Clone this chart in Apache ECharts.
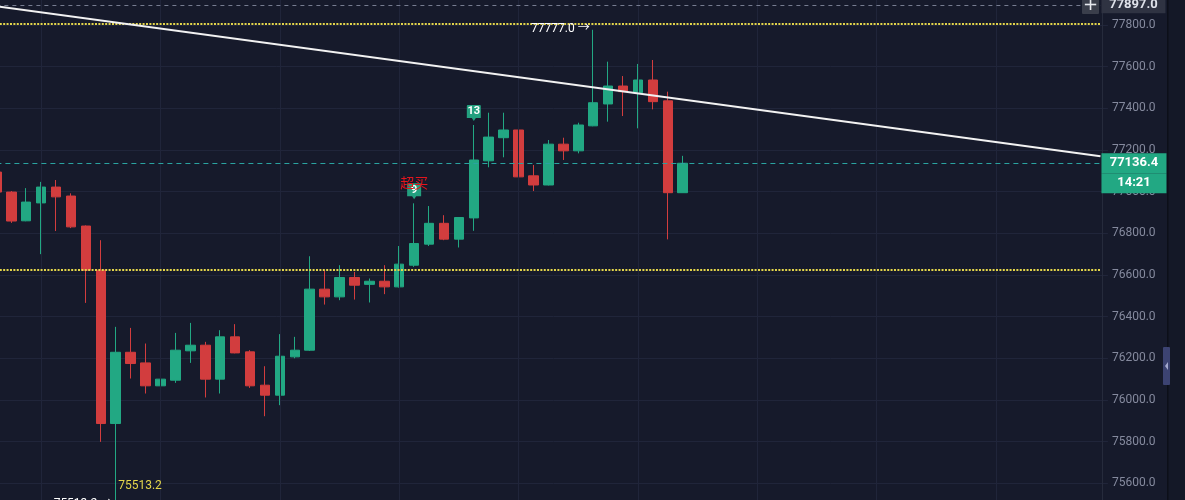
<!DOCTYPE html>
<html><head><meta charset="utf-8">
<script src="https://cdn.jsdelivr.net/npm/echarts@6/dist/echarts.min.js"></script>
<style>html,body{margin:0;padding:0;background:#161a2b;overflow:hidden}#chart{width:1185px;height:500px;}</style>
</head><body><div id="chart"></div>
<script>
// ---------- data ----------
const categories = Array.from({length: 75}, (_, i) => 'K' + i);
const opens  = [77094,76998,76860,76946,77022,76979,76835,76623,75887,76229,76178,76068,76095,76236,76263,76100,76303,76231,76071,76023,76207,76239,76532,76495,76588,76555,76570,76543,76647,76748,76848,76772,76874,77148,77259,77296,77076,77032,77228,77196,77316,77421,77507,77475,77536,77436,76995];
const closes = [76998,76859,76950,77022,76975,76831,76623,75887,76229,76175,76068,76100,76239,76263,76100,76303,76226,76068,76023,76210,76239,76532,76495,76588,76551,76570,76543,76652,76751,76848,76772,76876,77152,77262,77296,77071,77032,77228,77196,77320,77427,77507,77480,77536,77432,76995,77136.4];
const lows   = [76985,76850,76858,76700,76811,76825,76466,75799,75513.2,76103,76031,75879,76082,76178,76012,76031,76224,76058,75922,75975,76200,76235,76458,76479,76482,76468,76508,76540,76639,76739,76767,76732,76812,77117,77165,76999,77003,77030,77152,77184,77314,77336,77363,77304,77395,76771,76995];
const highs  = [77105,77003,77017,77047,77056,76992,76838,76767,76351,76346,76271,76175,76322,76370,76279,76335,76364,76239,76162,76316,76303,76690,76623,76647,76615,76583,76647,76739,76944,76931,76887,76878,77320,77379,77379,77304,77128,77248,77259,77331,77777.0,77624,77555,77613,77632,77480,77172];
const lastPrice = 77136.4;
const countdown = '14:21';
const viewTopPrice = 77897.0;
const levelLines = [77808, 76627];
const trendLine = [[0, 77890], [74, 77170]];
const signalMarks = [[32, '13'], [28, '9']];
const overbought = [28, '超买'];
const highMark = [40, 77777.0];
const lowMark = [8, 75513.2];
const gridLineIdx = [3, 11, 19, 27, 35, 43, 51, 59, 67];

// ---------- styles ----------
const UP = '#22a883', DOWN = '#d23d3e', BG = '#161a2b';
const candles = opens.map((o, i) => [o, closes[i], lows[i], highs[i]]);
const lastCat = categories[categories.length - 1];

const hLine = (v, style, label) => [
  {coord: [categories[0], v], lineStyle: style, label: label || {show: false}},
  {coord: [lastCat, v]}
];

const markLineData = [];
gridLineIdx.forEach(i => markLineData.push({xAxis: categories[i], lineStyle: {color: '#20253a', width: 1, type: 'solid'}, label: {show: false}}));
markLineData.push(hLine(viewTopPrice, {color: '#767c90', width: 1, type: [4, 4]}, {
  show: true, position: 'end', distance: 1,
  formatter: '{t|' + viewTopPrice.toFixed(1) + '}',
  rich: {t: {backgroundColor: '#2f3342', color: '#dfe2ea', fontSize: 13, fontWeight: 'bold', width: 64, height: 17, lineHeight: 17, align: 'center'}}
}));
levelLines.forEach(v => markLineData.push(hLine(v, {color: '#e4d64b', width: 2, type: [2, 1.4]})));
markLineData.push(hLine(lastPrice, {color: '#2aa3a0', width: 1, type: [5, 4]}, {
  show: true, position: 'end', distance: 1, offset: [0, 10],
  formatter: '{a|' + lastPrice.toFixed(1) + '}\n{b|' + countdown + '}',
  rich: {
    a: {backgroundColor: UP, color: '#ffffff', fontSize: 13, fontWeight: 'bold', width: 65, height: 20, lineHeight: 20, align: 'center'},
    b: {backgroundColor: UP, color: '#ffffff', fontSize: 13, fontWeight: 'bold', width: 65, height: 20, lineHeight: 20, align: 'center'}
  }
}));
markLineData.push([
  {coord: [categories[trendLine[0][0]], trendLine[0][1]], lineStyle: {color: '#f2f2f2', width: 2, type: 'solid'}, label: {show: false}},
  {coord: [categories[trendLine[1][0]], trendLine[1][1]]}
]);

const flagPath = 'path://M1,0 H13 Q14,0 14,1 V13 H9 L7,16 L5,13 H0 V1 Q0,0 1,0 Z';
const markPointData = [];
signalMarks.forEach(([i, t]) => markPointData.push({
  coord: [categories[i], highs[i]], symbol: flagPath, symbolSize: [14, 16], symbolOffset: [0, -12],
  itemStyle: {color: '#23a07f'},
  label: {show: true, position: 'inside', offset: [0, -1.5], formatter: t, color: '#ffffff', fontSize: 11, fontWeight: 'bold'}
}));
markPointData.push({
  coord: [categories[overbought[0]], highs[overbought[0]]], symbol: 'circle', symbolSize: 1,
  itemStyle: {color: 'rgba(0,0,0,0)'},
  label: {show: true, position: 'inside', offset: [0, -21], formatter: overbought[1], color: '#e3151d', fontSize: 14, fontFamily: '"Noto Sans CJK SC", sans-serif'}
});
markPointData.push({
  coord: [categories[highMark[0]], highMark[1]], symbol: 'circle', symbolSize: 1,
  itemStyle: {color: 'rgba(0,0,0,0)'},
  label: {show: true, position: 'left', distance: 3, offset: [0, -1], formatter: highMark[1].toFixed(1) + ' →', color: '#ffffff', fontSize: 12}
});
markPointData.push({
  coord: [categories[lowMark[0]], lowMark[1]], symbol: 'circle', symbolSize: 1,
  itemStyle: {color: 'rgba(0,0,0,0)'},
  label: {show: true, position: 'right', distance: 2, offset: [0, -15], formatter: lowMark[1].toFixed(1), color: '#e4d64b', fontSize: 12}
});
markPointData.push({
  coord: [categories[lowMark[0]], lowMark[1]], symbol: 'circle', symbolSize: 1,
  itemStyle: {color: 'rgba(0,0,0,0)'},
  label: {show: true, position: 'left', distance: 3, offset: [0, 3], formatter: lowMark[1].toFixed(1) + ' →', color: '#ffffff', fontSize: 12}
});

const chart = echarts.init(document.getElementById('chart'), null, {renderer: 'canvas'});
chart.setOption({
  backgroundColor: BG,
  animation: false,
  textStyle: {fontFamily: 'Roboto, "Noto Sans CJK SC", sans-serif'},
  grid: {left: -11.08, right: 77.08, top: -16.66, bottom: -24.97, containLabel: false, outerBoundsMode: 'none'},
  xAxis: {type: 'category', data: categories, boundaryGap: true, show: false},
  yAxis: {
    type: 'value', position: 'right', offset: -6, min: 75400, max: 78000, interval: 200,
    axisLine: {show: true, lineStyle: {color: '#262b3c'}},
    axisTick: {show: false},
    axisLabel: {margin: 10, color: '#858a9e', fontSize: 12, formatter: v => v.toFixed(1)},
    splitLine: {lineStyle: {color: '#20253a'}}
  },
  series: [{
    type: 'candlestick',
    data: candles,
    barWidth: 10,
    itemStyle: {color: UP, color0: DOWN, borderColor: UP, borderColor0: DOWN, borderWidth: 1},
    markLine: {silent: true, symbol: ['none', 'none'], animation: false, label: {show: false}, data: markLineData},
    markPoint: {silent: true, animation: false, data: markPointData}
  }],
  graphic: [
    {type: 'rect', shape: {x: 1168, y: 0, width: 17, height: 500}, style: {fill: '#141827'}, z: 100},
    {type: 'rect', shape: {x: 1167, y: 0, width: 1.5, height: 500}, style: {fill: '#0c0f19'}, z: 101},
    {type: 'rect', shape: {x: 1163, y: 347, width: 7, height: 38, r: 1}, style: {fill: '#3c4372'}, z: 102},
    {type: 'polygon', shape: {points: [[1165, 366], [1168, 362], [1168, 370]]}, style: {fill: '#a4a9cf'}, z: 103},
    {type: 'rect', shape: {x: 1082, y: -3, width: 17, height: 17, r: 1}, style: {fill: '#3a3e4b'}, z: 100},
    {type: 'text', x: 1090.5, y: 5.5, style: {text: '+', fill: '#e6e8ee', fontSize: 18, align: 'center', verticalAlign: 'middle', fontFamily: 'DejaVu Sans'}, z: 101}
  ]
});
</script></body></html>
